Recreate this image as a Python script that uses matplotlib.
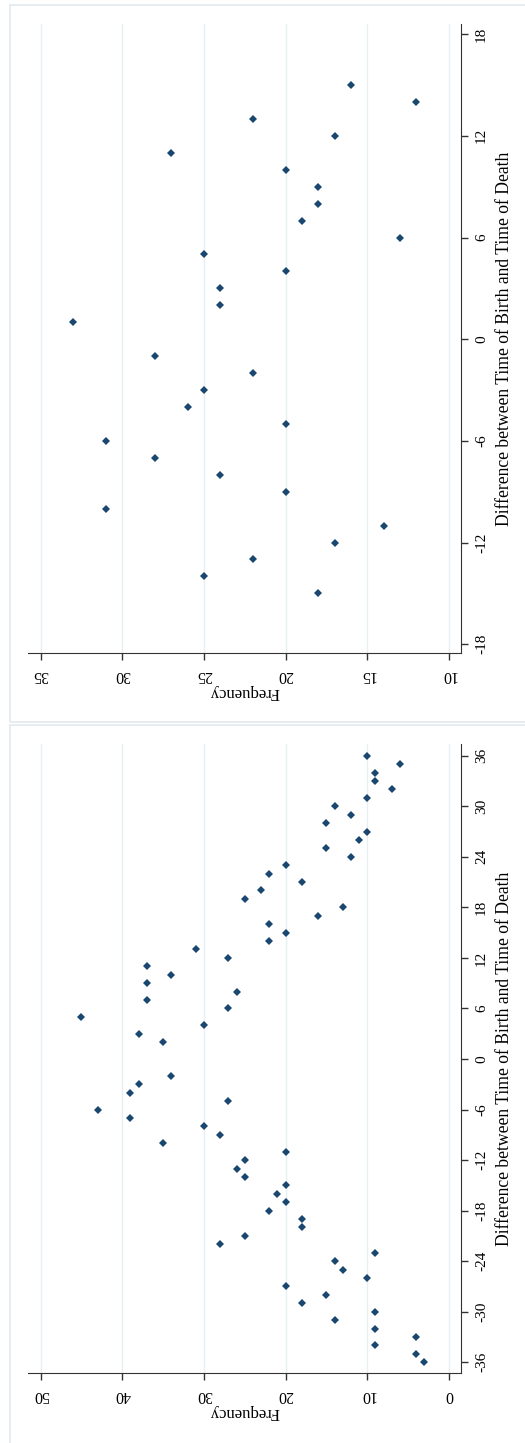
import matplotlib
matplotlib.use("Agg")
import matplotlib.pyplot as plt
from matplotlib.patches import Rectangle

plt.rcParams['font.family'] = ['Liberation Serif', 'DejaVu Serif']
plt.rcParams['axes.unicode_minus'] = False

# top panel: difference -15..15 (no 0)
diff_top = [-15, -14, -13, -12, -11, -10, -9, -8, -7, -6, -5, -4, -3, -2, -1,
            1, 2, 3, 4, 5, 6, 7, 8, 9, 10, 11, 12, 13, 14, 15]
freq_top = [18, 25, 22, 17, 14, 31, 20, 24, 28, 31, 20, 26, 25, 22, 28,
            33, 24, 24, 20, 25, 13, 19, 18, 18, 20, 27, 17, 22, 12, 16]

# bottom panel: difference -36..36 (no -1, 0, 1)
diff_bot = [-36, -35, -34, -33, -32, -31, -30, -29, -28, -27, -26, -25, -24, -23,
            -22, -21, -20, -19, -18, -17, -16, -15, -14, -13, -12, -11, -10, -9,
            -8, -7, -6, -5, -4, -3, -2,
            2, 3, 4, 5, 6, 7, 8, 9, 10, 11, 12, 13, 14, 15, 16, 17, 18, 19, 20,
            21, 22, 23, 24, 25, 26, 27, 28, 29, 30, 31, 32, 33, 34, 35, 36]
freq_bot = [3, 4, 9, 4, 9, 14, 9, 18, 15, 20, 10, 13, 14, 9,
            28, 25, 18, 18, 22, 20, 21, 20, 25, 26, 25, 20, 35, 28,
            30, 39, 43, 27, 39, 38, 34,
            35, 38, 30, 45, 27, 37, 26, 37, 34, 37, 27, 31, 22, 20, 22, 16, 13, 25, 23,
            18, 22, 20, 12, 15, 11, 10, 15, 12, 14, 10, 7, 9, 9, 6, 10]

freq_ticks_top = [35, 30, 25, 20, 15, 10]
diff_ticks_top = [-18, -12, -6, 0, 6, 12, 18]
freq_ticks_bot = [50, 40, 30, 20, 10, 0]
diff_ticks_bot = [-36, -30, -24, -18, -12, -6, 0, 6, 12, 18, 24, 30, 36]

W, H = 525, 1443
navy = '#1a476f'
grid_c = '#e6eff1'
frame_c = '#e1e9ec'
axis_c = '#333333'

fig = plt.figure(figsize=(W / 100, H / 100), dpi=100)

# light outer frames of the two graphs
fig.patches.append(Rectangle((10 / W, 1 - 722 / H), 1.0, 717 / H, transform=fig.transFigure,
                             fill=False, edgecolor=frame_c, linewidth=1.2))
fig.patches.append(Rectangle((10 / W, -0.01), 1.0, 1 - 725 / H + 0.01, transform=fig.transFigure,
                             fill=False, edgecolor=frame_c, linewidth=1.2))


def panel(rect, freq, diff, fticks, dticks, xlim, ylim):
    ax = fig.add_axes(rect)
    ax.plot(freq, diff, linestyle='none', marker='D', markersize=4.1,
            color=navy, markeredgewidth=0)
    ax.set_xlim(*xlim)
    ax.set_ylim(*ylim)
    ax.set_xticks(fticks)
    ax.set_yticks(dticks)
    for f in fticks:
        ax.axvline(f, color=grid_c, linewidth=1.0, zorder=0)
    ax.spines['top'].set_visible(False)
    ax.spines['left'].set_visible(False)
    ax.spines['right'].set_color(axis_c)
    ax.spines['bottom'].set_color(axis_c)
    ax.yaxis.tick_right()
    ax.yaxis.set_label_position('right')
    ax.tick_params(axis='y', direction='out', length=5, width=1, color=axis_c,
                   labelsize=11, pad=5, labelrotation=90)
    ax.tick_params(axis='x', direction='out', length=5, width=1, color=axis_c,
                   labelsize=11.5, pad=5, labelrotation=180)
    for lab in ax.get_yticklabels():
        lab.set_va('center')
    ax.set_ylabel('Difference between Time of Birth and Time of Death',
                  fontsize=12.7, rotation=90, labelpad=6)
    ax.set_xlabel('Frequency', fontsize=12, rotation=180, labelpad=1)
    return ax


panel([28 / W, 1 - 653 / H, 433 / W, 629 / H], freq_top, diff_top,
      freq_ticks_top, diff_ticks_top, (35.77, 9.27), (-18.52, 18.6))
panel([28 / W, 1 - 1373 / H, 433 / W, 628.7 / H], freq_bot, diff_bot,
      freq_ticks_bot, diff_ticks_bot, (51.55, -1.47), (-37.27, 37.35))

fig.savefig('out.png', dpi=100)
